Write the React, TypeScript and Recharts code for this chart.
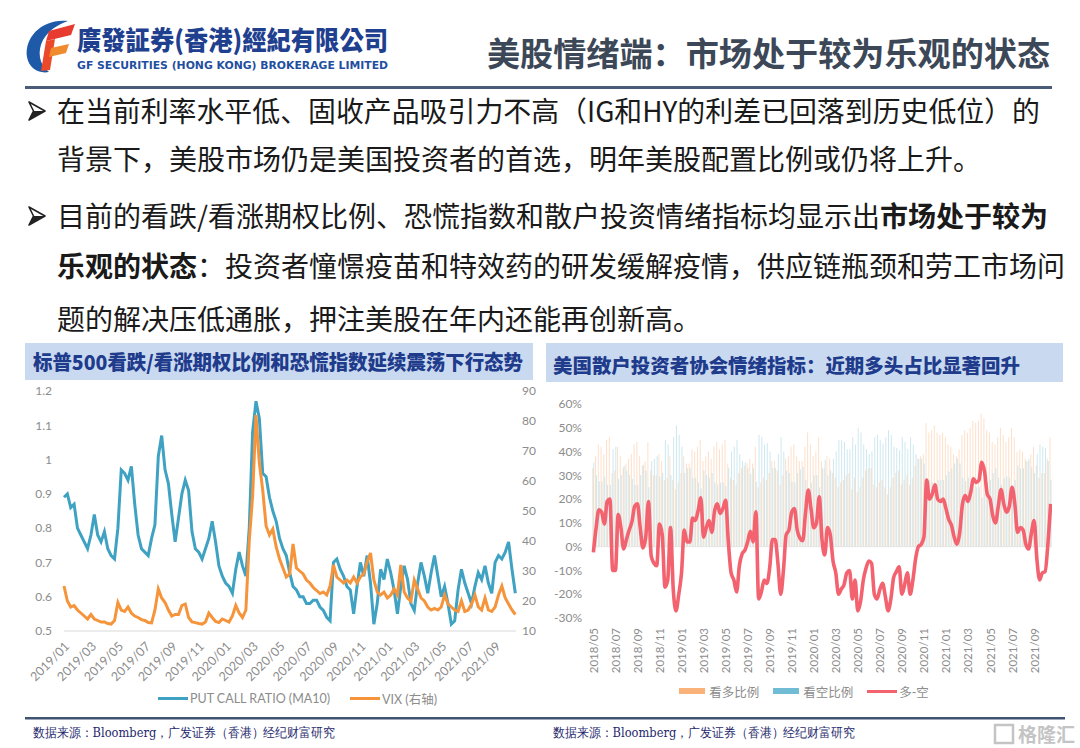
import React from "react";
import { LineChart, Line, XAxis, YAxis, Legend, ComposedChart, Bar, ReferenceLine } from "recharts";

// ---- left chart: put/call ratio (MA10) and VIX, 4 points per month from 2019/01
const L_TICKS = ["2019/01", "2019/03", "2019/05", "2019/07", "2019/09", "2019/11", "2020/01", "2020/03", "2020/05", "2020/07", "2020/09", "2020/11", "2021/01", "2021/03", "2021/05", "2021/07", "2021/09"];
const L_TICK_POS = [0, 2, 4, 6, 8, 10, 12, 14, 16, 18, 20, 22, 24, 26, 28, 30, 32];
const L_LEFT_TICKS = [0.5, 0.6, 0.7, 0.8, 0.9, 1, 1.1, 1.2];
const L_RIGHT_TICKS = [10, 20, 30, 40, 50, 60, 70, 80, 90];

const PCR = [
  0.89, 0.9, 0.86, 0.87, 0.8, 0.78, 0.76, 0.74, 0.78, 0.84,
  0.78, 0.76, 0.79, 0.74, 0.72, 0.71, 0.8, 0.97, 0.96, 0.94,
  0.98, 0.87, 0.78, 0.74, 0.73, 0.72, 0.77, 0.81, 1.01, 1.07,
  0.97, 0.93, 0.84, 0.76, 0.83, 0.9, 0.94, 0.91, 0.79, 0.74,
  0.73, 0.71, 0.74, 0.77, 0.82, 0.76, 0.69, 0.66, 0.64, 0.63,
  0.61, 0.68, 0.73, 0.69, 0.66, 0.8, 1.08, 1.17, 1.12, 0.96,
  0.95, 0.89, 0.85, 0.82, 0.77, 0.74, 0.72, 0.67, 0.63, 0.62,
  0.6, 0.6, 0.58, 0.58, 0.59, 0.59, 0.57, 0.56, 0.54, 0.53,
  0.7, 0.71, 0.68, 0.66, 0.63, 0.62, 0.55, 0.63, 0.7, 0.66,
  0.72, 0.64, 0.52, 0.58, 0.68, 0.65, 0.71, 0.67, 0.62, 0.55,
  0.63, 0.69, 0.65, 0.58, 0.56, 0.64, 0.7, 0.66, 0.61, 0.67,
  0.72, 0.66, 0.6, 0.63, 0.58, 0.52, 0.53, 0.62, 0.68, 0.64,
  0.61, 0.58, 0.63, 0.67, 0.65, 0.69, 0.64, 0.61, 0.7, 0.72,
  0.71, 0.73, 0.76, 0.68, 0.61,
];

const VIX = [
  25, 20, 18, 18.5, 17, 16, 15, 14, 15.5, 14,
  13.5, 13, 13, 12.5, 12.3, 13.5, 19.5, 17, 16.5, 18,
  16, 15, 14.5, 13.8, 13.5, 12.8, 12.7, 17, 24, 21,
  19.5, 17, 15, 15.5, 15.5, 18.5, 19, 14.5, 13, 12.8,
  12.5, 12.3, 13, 16, 14.5, 13.2, 12.8, 14, 13.5, 13,
  15, 18.5, 16, 14.5, 17, 40, 55, 82, 66, 57,
  45, 42, 44, 38, 34, 31, 28, 29, 39, 31,
  30, 29, 27, 26, 24.5, 23.5, 22.5, 23, 22, 25,
  32, 28, 27, 26, 27, 26, 28, 26, 28, 29,
  33, 36, 27, 23, 22, 23, 21, 22, 24, 22,
  32, 23, 21, 20, 27, 24, 21, 20, 18, 17,
  17.5, 17, 18, 22, 19, 18, 17, 16.5, 20, 16.5,
  17, 19, 22, 18, 17, 21, 17, 16.5, 18, 22,
  25, 21, 19, 17, 15.5,
];

// ---- right chart: AAII sentiment, weekly from 2018/05 (%)
const R_TICKS = ["2018/05", "2018/07", "2018/09", "2018/11", "2019/01", "2019/03", "2019/05", "2019/07", "2019/09", "2019/11", "2020/01", "2020/03", "2020/05", "2020/07", "2020/09", "2020/11", "2021/01", "2021/03", "2021/05", "2021/07", "2021/09"];
const R_Y_TICKS = [-30, -20, -10, 0, 10, 20, 30, 40, 50, 60];
const R_LEGEND_ORDER = ["看多比例", "看空比例", "多-空"];

const SPREAD = [
  -2.4, 8, 15.5, 14.5, 9.5, 19, 20, -10, -10, 13.5,
  8, -1, 3, 7, 10.5, 17, 18, 8, -0.5, 4,
  19, -4, -7, -8, 9.5, 5, -17, -14, 8, -18,
  -27, -20, -11, 7, 2, 2, 12, 11, 15, 20.5,
  4, 8, 11, 6, 15, 18, 14, 16, 19.5, 2,
  -11, -14, -19, -8, -3, -1.5, 2, 6.5, 2, 14.7,
  -22, -19, -14, -15.5, -9, 3, 3, -7, -20, -10,
  5, 7, 14.5, 16, 7, 3.5, 2.5, 14, 23.8, 16,
  8, 10, 21, 3, -3.5, 8, 5, -6, -11, -20,
  -17.8, -16, -11, -10, -22, -14, -27, -23, -14, -9,
  -6, -7, -20, -22, -18, -15.4, -21, -27, -22, -13,
  -10.5, -8.5, -20, -16, -11, -20, -14, -5, 0, 1,
  4, 28, 20, 22, 26, 20, 19, 20, 16, 11.5,
  9, 4, 1, 6, 18, 21.5, 19, 23, 28.5, 27,
  28, 35.5, 31.6, 22, 20, 13, 10, 17, 24, 18,
  14.5, 17, 25, 18, 6, 8, 7, 1, -1, 5.6,
  11, -5, -14, -11, -10.5, 1, 18,
];

const BULL = [
  33, 38, 43, 42, 39, 45, 46, 31, 32, 42,
  38, 33, 35, 37, 39, 43, 44, 38, 34, 36,
  44, 32, 30, 30, 39, 36, 28, 29, 38, 28,
  24, 27, 31, 38, 35, 35, 41, 40, 42, 45,
  36, 38, 40, 37, 42, 44, 41, 43, 45, 35,
  29, 28, 26, 31, 33, 34, 35, 37, 35, 42,
  25, 27, 29, 28, 31, 36, 36, 32, 26, 30,
  37, 38, 42, 43, 38, 36, 36, 42, 48, 43,
  38, 40, 46, 36, 33, 38, 37, 31, 29, 25,
  27, 28, 30, 31, 24, 29, 23, 25, 29, 32,
  33, 33, 26, 25, 27, 28, 25, 22, 25, 29,
  31, 32, 26, 28, 30, 26, 29, 34, 37, 38,
  39, 52, 48, 49, 51, 48, 47, 48, 46, 43,
  42, 39, 38, 41, 47, 49, 48, 50, 53, 52,
  53, 56, 54, 49, 48, 44, 43, 46, 50, 47,
  44, 46, 50, 46, 40, 41, 40, 37, 36, 39,
  42, 34, 29, 31, 31, 37, 46,
];

const BEAR = [
  35.4, 30, 27.5, 27.5, 29.5, 26, 26, 41, 42, 28.5,
  30, 34, 32, 30, 28.5, 26, 26, 30, 34.5, 32,
  25, 36, 37, 38, 29.5, 31, 45, 43, 30, 46,
  51, 47, 42, 31, 33, 33, 29, 29, 27, 24.5,
  32, 30, 29, 31, 27, 26, 27, 27, 25.5, 33,
  40, 42, 45, 39, 36, 35.5, 33, 30.5, 33, 27.3,
  47, 46, 43, 43.5, 40, 33, 33, 39, 46, 40,
  32, 31, 27.5, 27, 31, 32.5, 33.5, 28, 24.2, 27,
  30, 30, 25, 33, 36.5, 30, 32, 37, 40, 45,
  44.8, 44, 41, 41, 46, 43, 50, 48, 43, 41,
  39, 40, 46, 47, 45, 43.4, 46, 49, 47, 42,
  41.5, 40.5, 46, 44, 41, 46, 43, 39, 37, 37,
  35, 24, 28, 27, 25, 28, 28, 28, 30, 31.5,
  33, 35, 37, 35, 29, 27.5, 29, 27, 24.5, 25,
  25, 20.5, 22.4, 27, 28, 31, 33, 29, 26, 29,
  29.5, 29, 25, 28, 34, 33, 33, 36, 37, 33.4,
  31, 39, 43, 42, 41.5, 36, 28,
];

const leftRows = PCR.map((v, i) => ({ t: i / 4, pcr: v, vix: VIX[i] }));
const rightRows = SPREAD.map((v, i) => ({ i, bull: BULL[i], bear: BEAR[i], spread: v }));

const CJK = "'Noto Sans CJK SC', 'Noto Sans', sans-serif";
const TICK = { fontSize: 12, fill: "#8c8c8c", fontFamily: "Lato, 'Noto Sans', sans-serif" };

const LTick = ({ x, y, payload }: any) => (
  <text
    x={x + 3}
    y={y + 5}
    transform={`rotate(-45 ${x + 3} ${y + 5})`}
    textAnchor="end"
    dominantBaseline="central"
    {...TICK}
    fontSize={12.5}
  >
    {L_TICKS[payload.value / 2]}
  </text>
);

const RTick = ({ x, y, payload }: any) => (
  <text
    x={x}
    y={y + 2}
    transform={`rotate(-90 ${x} ${y + 2})`}
    textAnchor="end"
    dominantBaseline="central"
    {...TICK}
    fontSize={11.5}
  >
    {R_TICKS[payload.value / 8]}
  </text>
);

function LegendRow({ payload, height, pad, gap, order }: any) {
  const items = [...(payload || [])];
  if (order) items.sort((a: any, b: any) => order.indexOf(a.value) - order.indexOf(b.value));
  return (
    <div
      style={{
        height,
        display: "flex",
        justifyContent: "center",
        alignItems: "center",
        paddingLeft: pad,
        gap,
        fontFamily: "Lato, 'Noto Sans CJK SC', sans-serif",
        fontSize: 12.5,
        color: "#8c8c8c",
      }}
    >
      {items.map((e: any) => (
        <span key={e.value} style={{ display: "flex", alignItems: "center" }}>
          {e.type === "rect" ? (
            <span style={{ width: 26, height: 6, background: e.color, marginRight: 4 }} />
          ) : (
            <span style={{ width: 30, height: 3, background: e.color, marginRight: 2 }} />
          )}
          {e.value}
        </span>
      ))}
    </div>
  );
}

function Logo() {
  return (
    <g>
      <path d="M68 21 C44 18 24 36 27 57 C29 68 38 74 49 72 C39 65 37 51 43 40 C49 30 57 25 68 21 Z" fill="#1e5aa8" />
      <path d="M49 31 L75 24 L71 35 L46 41 Z" fill="#e63b2e" />
      <path d="M46 41 L55 39 L50 70 L41 71 Z" fill="#ea4a2a" />
      <path d="M51 48 L69 44 L66 53 L49 57 Z" fill="#f08a2e" />
    </g>
  );
}

function Arrow({ y }: { y: number }) {
  return (
    <g>
      <path d={`M29 ${y - 9} L45 ${y} L29 ${y + 9} L33.5 ${y} Z`} fill="#fff" stroke="#222" strokeWidth={1.6} strokeLinejoin="round" />
      <path d={`M33.5 ${y} L45 ${y} L29 ${y + 9} Z`} fill="#222" />
    </g>
  );
}

export default function App() {
  return (
    <div
      style={{
        position: "absolute",
        left: 0,
        top: 0,
        width: 1080,
        height: 748,
        background: "#fff",
        overflow: "hidden",
        fontFamily: CJK,
      }}
    >
      <svg width={1080} height={748} style={{ position: "absolute", left: 0, top: 0 }}>
        <Logo />
        <text x={77} y={50} fontSize={26} fontWeight={900} fill="#1f3f8f" fontFamily="'Noto Sans CJK TC', sans-serif" textLength={311} lengthAdjust="spacingAndGlyphs">
          廣發証券(香港)經紀有限公司
        </text>
        <text x={77} y={68.5} fontSize={11} fontWeight={700} fill="#1f4f9f" fontFamily="'DejaVu Sans', sans-serif" textLength={311} lengthAdjust="spacingAndGlyphs">
          GF SECURITIES (HONG KONG) BROKERAGE LIMITED
        </text>
        <text x={487} y={66} fontSize={33} fontWeight={700} fill="#3c4858" textLength={563} lengthAdjust="spacingAndGlyphs">
          美股情绪端：市场处于较为乐观的状态
        </text>
        <rect x={25} y={86} width={1027} height={3} fill="#4a5c7a" />

        {/* bullets */}
        <Arrow y={111} />
        <Arrow y={216} />
        <g fontSize={28} fill="#1a1a1a">
          <text x={57} y={122} textLength={983} lengthAdjust="spacingAndGlyphs">在当前利率水平低、固收产品吸引力不高（IG和HY的利差已回落到历史低位）的</text>
          <text x={57} y={170}>背景下，美股市场仍是美国投资者的首选，明年美股配置比例或仍将上升。</text>
          <text x={57} y={227}>
            目前的看跌/看涨期权比例、恐慌指数和散户投资情绪指标均显示出<tspan fontWeight={700}>市场处于较为</tspan>
          </text>
          <text x={57} y={277}>
            <tspan fontWeight={700}>乐观的状态</tspan>：投资者憧憬疫苗和特效药的研发缓解疫情，供应链瓶颈和劳工市场问
          </text>
          <text x={57} y={330}>题的解决压低通胀，押注美股在年内还能再创新高。</text>
        </g>

        {/* panel headers */}
        <rect x={25} y={343} width={508} height={37} fill="#c9daf0" />
        <text x={33} y={370} fontSize={20} fontWeight={900} fill="#1f3b8c" textLength={490} lengthAdjust="spacingAndGlyphs">
          标普500看跌/看涨期权比例和恐慌指数延续震荡下行态势
        </text>
        <rect x={546} y={343} width={517} height={39} fill="#c9daf0" />
        <text x={553} y={373} fontSize={19.5} fontWeight={900} fill="#1f3b8c" textLength={467} lengthAdjust="spacingAndGlyphs">
          美国散户投资者协会情绪指标：近期多头占比显著回升
        </text>

        {/* footer */}
        <rect x={25} y={717} width={1040} height={2.5} fill="#3f5373" />
        <text x={33} y={737} fontSize={12.5} fill="#1f2a6e" fontFamily="'DejaVu Serif', serif" textLength={302} lengthAdjust="spacingAndGlyphs">
          数据来源：Bloomberg，广发证券（香港）经纪财富研究
        </text>
        <text x={553} y={737} fontSize={12.5} fill="#1f2a6e" fontFamily="'DejaVu Serif', serif" textLength={302} lengthAdjust="spacingAndGlyphs">
          数据来源：Bloomberg，广发证券（香港）经纪财富研究
        </text>
        <rect x={995} y={725} width={18} height={18} fill="none" stroke="#c4c4c4" strokeWidth={2.5} />
        <text x={1018} y={742} fontSize={19} fontWeight={700} fill="#c4c4c4">格隆汇</text>
      </svg>

      <div style={{ position: "absolute", left: 0, top: 380 }}>
        <LineChart width={545} height={335} data={leftRows} margin={{ top: 11, right: 0, bottom: 0, left: 0 }}>
          <XAxis
            dataKey="t"
            type="number"
            domain={[0, 33.55]}
            ticks={L_TICK_POS}
            tick={<LTick />}
            tickLine={false}
            axisLine={{ stroke: "#d9d9d9" }}
            height={50}
            interval={0}
          />
          <YAxis yAxisId="l" domain={[0.5, 1.2]} ticks={L_LEFT_TICKS} width={64} tickLine={false} axisLine={false} tick={TICK} tickMargin={6} interval={0} />
          <YAxis yAxisId="r" orientation="right" domain={[10, 90]} ticks={L_RIGHT_TICKS} width={29} tickLine={false} axisLine={false} tick={TICK} tickMargin={0} interval={0} />
          <Legend verticalAlign="bottom" content={(p: any) => <LegendRow payload={p.payload} height={34} pad={50} gap={20} />} />
          <Line yAxisId="l" dataKey="pcr" name="PUT CALL RATIO (MA10)" stroke="#3fa2c2" strokeWidth={3} dot={false} type="linear" isAnimationActive={false} />
          <Line yAxisId="r" dataKey="vix" name="VIX (右轴)" stroke="#f5943a" strokeWidth={3} dot={false} type="linear" isAnimationActive={false} />
        </LineChart>
      </div>

      <div style={{ position: "absolute", left: 546, top: 390 }}>
        <ComposedChart width={506} height={325} data={rightRows} margin={{ top: 14, right: 0, bottom: 0, left: 0 }} barGap={0} barCategoryGap="10%">
          <XAxis dataKey="i" type="category" interval={7} tick={<RTick />} tickLine={false} axisLine={false} height={49} />
          <YAxis domain={[-30, 60]} ticks={R_Y_TICKS} width={46} tickLine={false} axisLine={false} tick={TICK} tickMargin={4} interval={0} tickFormatter={(v: number) => `${v}%`} />
          <ReferenceLine y={0} stroke="#e4e4e4" />
          <Legend verticalAlign="bottom" content={(p: any) => <LegendRow payload={p.payload} height={48} pad={10} gap={14} order={R_LEGEND_ORDER} />} />
          <Bar dataKey="bull" name="看多比例" fill="#f9b27a" fillOpacity={0.4} legendType="rect" isAnimationActive={false} />
          <Bar dataKey="bear" name="看空比例" fill="#6fbcd4" fillOpacity={0.35} legendType="rect" isAnimationActive={false} />
          <Line dataKey="spread" name="多-空" stroke="#f2626f" strokeWidth={3.6} dot={false} type="monotone" legendType="line" isAnimationActive={false} />
        </ComposedChart>
      </div>
    </div>
  );
}
